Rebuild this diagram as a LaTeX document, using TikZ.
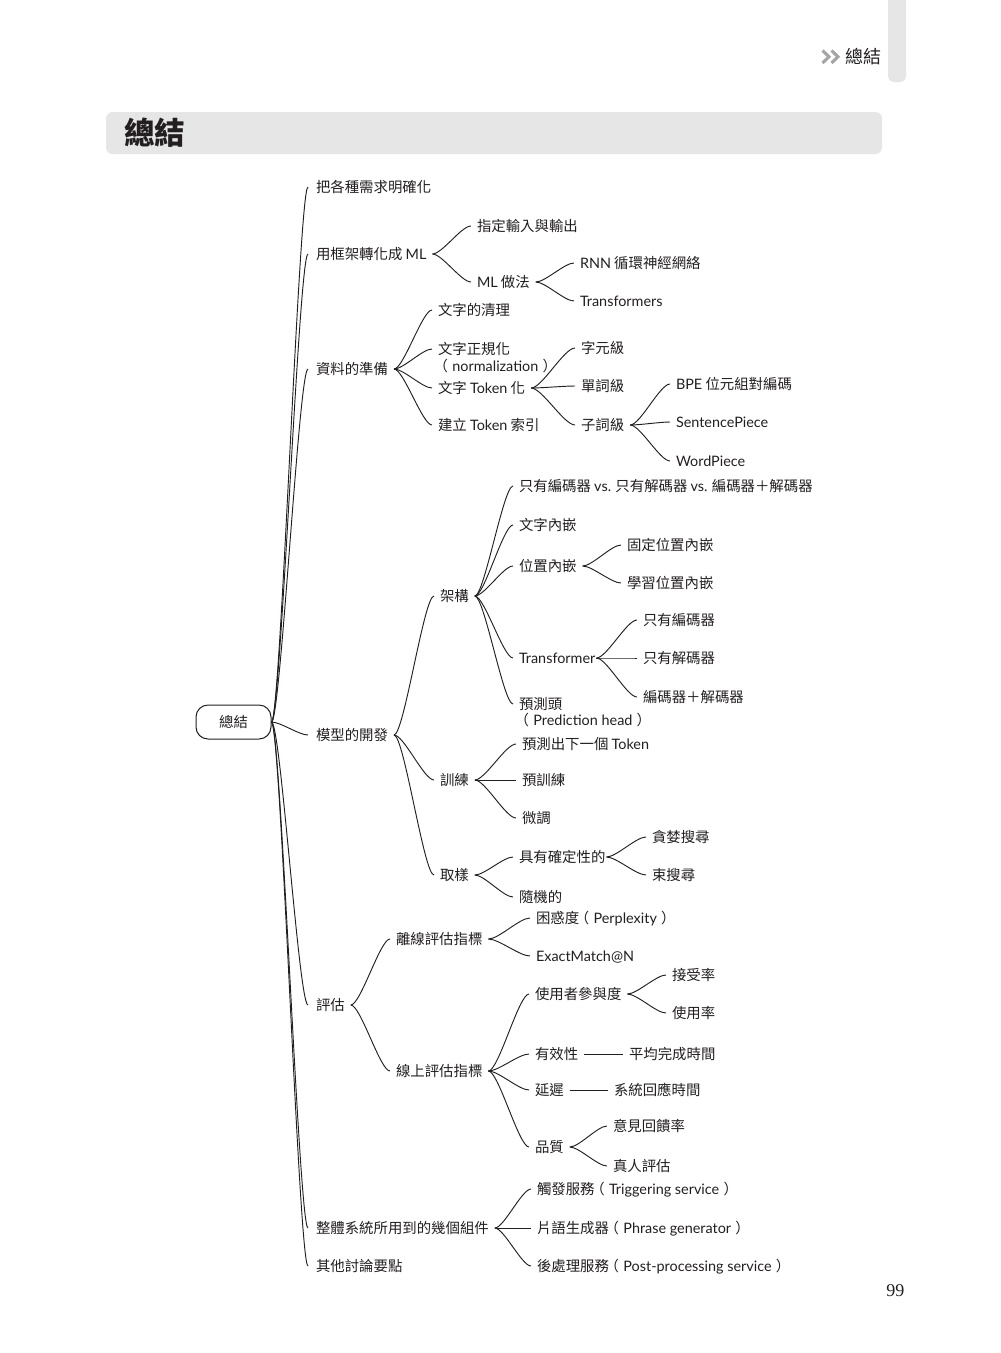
\documentclass[tikz,border=0pt]{standalone}
\usepackage{fontspec}
\setmainfont{Noto Sans CJK TC}
\newfontfamily\lat{Lato}
\newfontfamily\serifnum{Liberation Serif}
\usetikzlibrary{calc}
\definecolor{ink}{HTML}{231F20}
\definecolor{band}{HTML}{E6E6E6}
\definecolor{chev}{HTML}{A5A5A5}
\newcommand\la[1]{{\lat #1}}
\newcommand\lp{\kern-3.2pt（\kern3.2pt}
\newcommand\rp{\kern3.2pt）\kern-3.2pt}
\tikzset{
  t/.style={anchor=west, inner sep=0pt, outer sep=0pt, text height=9.5pt, text depth=1.3pt,
    font=\fontsize{10.8pt}{13pt}\selectfont, text=ink},
  ln/.style={draw=ink, line width=0.7pt},
  rootbox/.style={draw=ink, line width=0.75pt, rounded corners=9pt, minimum width=56.25pt,
    minimum height=25.5pt, inner sep=0pt, font=\fontsize{10.8pt}{13pt}\selectfont, text=ink},
}
\newcommand\cnx[4]{%
  \coordinate (cs) at ([xshift=#1]#3.east);
  \coordinate (ce) at ([xshift=-#2]#4.west);
  \draw[ln] (cs) .. controls ($(cs)!0.25!(cs -| ce)$) and ($(ce)!0.25!(ce -| cs)$) .. (ce);}
\newcommand\cn[2]{\cnx{4.5pt}{4.5pt}{#1}{#2}}
\begin{document}
\begin{tikzpicture}[x=0.75pt,y=-0.75pt]
\useasboundingbox (0,0) rectangle (1000,1353);
\fill[white] (0,0) rectangle (1000,1353);
% header
\fill[band, rounded corners=4pt] (888,-20) rectangle (906,82);
\draw[chev, line width=2.3pt] (822.5,50.5) -- (829,56.8) -- (822.5,63);
\draw[chev, line width=2.3pt] (831.5,50.5) -- (838,56.8) -- (831.5,63);
\node[anchor=west, inner sep=0pt, font=\fontsize{13.5pt}{16pt}\selectfont, text=ink] (hdr) at (845,57) {總結};
% title band
\fill[band, rounded corners=5pt] (106,112) rectangle (882,154);
\node[anchor=west, inner sep=0pt, font=\fontsize{23pt}{26pt}\selectfont\bfseries, text=ink] (title) at (124,133) {總結};
% root
\node[rootbox] (root) at (233.5,722) {總結};
% level 1
\node[t] (a1) at (316,187) {把各種需求明確化};
\node[t] (a2) at (316,254) {用框架轉化成 \la{ML}};
\node[t] (a3) at (316,369) {資料的準備};
\node[t] (a4) at (316,735) {模型的開發};
\node[t] (a5) at (316,1005) {評估};
\node[t] (a6) at (316,1228) {整體系統所用到的幾個組件};
\node[t] (a7) at (316,1266) {其他討論要點};
\foreach \c in {a1,a2,a3,a4,a5,a6,a7}{\cnx{0pt}{6pt}{root}{\c}}
% a2
\node[t] (b1) at (477,226) {指定輸入與輸出};
\node[t] (b2) at (477,282) {\la{ML} 做法};
\node[t] (c1) at (580,263) {\la{RNN} 循環神經網絡};
\node[t] (c2) at (580,301) {\la{Transformers}};
\cn{a2}{b1}\cn{a2}{b2}\cn{b2}{c1}\cn{b2}{c2}
% a3
\node[t] (d1) at (438,310) {文字的清理};
\node[t] (d2) at (438,349) {文字正規化};
\node[t] (d2x) at (438,366) {\lp\la{normalization}\rp};
\node[t] (d3) at (438,388) {文字 \la{Token} 化};
\node[t] (d4) at (438,425) {建立 \la{Token} 索引};
\node[t] (e1) at (581,348) {字元級};
\node[t] (e2) at (581,386) {單詞級};
\node[t] (e3) at (581,425) {子詞級};
\node[t] (f1) at (676,384) {\la{BPE} 位元組對編碼};
\node[t] (f2) at (676,422) {\la{SentencePiece}};
\node[t] (f3) at (676,461) {\la{WordPiece}};
\cn{a3}{d1}\cn{a3}{d2}\cn{a3}{d3}\cn{a3}{d4}
\cn{d3}{e1}\cn{d3}{e2}\cn{d3}{e3}
\cn{e3}{f1}\cn{e3}{f2}\cn{e3}{f3}
% a4
\node[t] (g1) at (440,596) {架構};
\node[t] (g2) at (440,780) {訓練};
\node[t] (g3) at (440,875) {取樣};
\cn{a4}{g1}\cn{a4}{g2}\cn{a4}{g3}
\node[t] (h1) at (519,486) {只有編碼器 \la{vs.} 只有解碼器 \la{vs.} 編碼器＋解碼器};
\node[t] (h2) at (519,525) {文字內嵌};
\node[t] (h3) at (519,566) {位置內嵌};
\node[t] (h4) at (519,658) {\la{Transformer}};
\node[t] (h5) at (519,704) {預測頭};
\node[t] (h5x) at (519,720) {\lp\la{Prediction head}\rp};
\cn{g1}{h1}\cn{g1}{h2}\cn{g1}{h3}\cn{g1}{h4}\cn{g1}{h5}
\node[t] (i1) at (627,545) {固定位置內嵌};
\node[t] (i2) at (627,583) {學習位置內嵌};
\cn{h3}{i1}\cn{h3}{i2}
\node[t] (j1) at (643,620) {只有編碼器};
\node[t] (j2) at (643,658) {只有解碼器};
\node[t] (j3) at (643,697) {編碼器＋解碼器};
\cnx{0.8pt}{4.5pt}{h4}{j1}\cnx{0.8pt}{4.5pt}{h4}{j2}\cnx{0.8pt}{4.5pt}{h4}{j3}
\node[t] (k1) at (522,744) {預測出下一個 \la{Token}};
\node[t] (k2) at (522,780) {預訓練};
\node[t] (k3) at (522,818) {微調};
\cn{g2}{k1}\cn{g2}{k2}\cn{g2}{k3}
\node[t] (l1) at (519,857) {具有確定性的};
\node[t] (l2) at (519,897) {隨機的};
\cn{g3}{l1}\cn{g3}{l2}
\node[t] (m1) at (652,837) {貪婪搜尋};
\node[t] (m2) at (652,875) {束搜尋};
\cnx{0.8pt}{4.5pt}{l1}{m1}\cnx{0.8pt}{4.5pt}{l1}{m2}
% a5
\node[t] (n1) at (396,939) {離線評估指標};
\node[t] (n2) at (396,1071) {線上評估指標};
\cn{a5}{n1}\cn{a5}{n2}
\node[t] (o1) at (536,918) {困惑度\lp\la{Perplexity}\rp};
\node[t] (o2) at (536,956) {\la{ExactMatch@N}};
\cn{n1}{o1}\cn{n1}{o2}
\node[t] (p1) at (535,994) {使用者參與度};
\node[t] (p2) at (535,1054) {有效性};
\node[t] (p3) at (535,1090) {延遲};
\node[t] (p4) at (535,1147) {品質};
\cn{n2}{p1}\cn{n2}{p2}\cn{n2}{p3}\cn{n2}{p4}
\node[t] (q1) at (672,975) {接受率};
\node[t] (q2) at (672,1013) {使用率};
\node[t] (q3) at (629,1054) {平均完成時間};
\node[t] (q4) at (614,1090) {系統回應時間};
\node[t] (q5) at (613,1126) {意見回饋率};
\node[t] (q6) at (613,1166) {真人評估};
\cn{p1}{q1}\cn{p1}{q2}\cn{p2}{q3}\cn{p3}{q4}\cn{p4}{q5}\cn{p4}{q6}
% a6
\node[t] (r1) at (537,1189) {觸發服務\lp\la{Triggering service}\rp};
\node[t] (r2) at (537,1228) {片語生成器\lp\la{Phrase generator}\rp};
\node[t] (r3) at (537,1266) {後處理服務\lp\la{Post-processing service}\rp};
\cn{a6}{r1}\cn{a6}{r2}\cn{a6}{r3}
% page number
\node[anchor=west, inner sep=0pt, font=\serifnum\fontsize{13.5pt}{16pt}\selectfont, text=ink] (pg) at (886,1291) {99};
\end{tikzpicture}
\end{document}
